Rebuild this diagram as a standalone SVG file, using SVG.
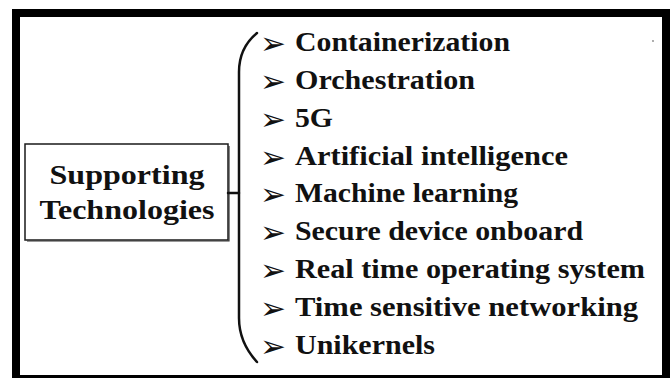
<svg xmlns="http://www.w3.org/2000/svg" width="670" height="378" viewBox="0 0 670 378">
  <style>
    .frame { fill: #ffffff; stroke: #000000; stroke-width: 8; }
    .box { fill: #ffffff; stroke: #1a1a1a; stroke-width: 1.5; }
    .shadow { fill: none; stroke: #333333; stroke-width: 1.2; }
    .title { font-family: "Liberation Serif", "Times New Roman", serif; font-weight: bold; font-size: 27px; fill: #111111; text-anchor: middle; }
    .item { font-family: "Liberation Serif", "Times New Roman", serif; font-weight: bold; font-size: 27px; fill: #111111; }
    .bullet { font-family: "DejaVu Sans", sans-serif; font-size: 31px; fill: #111111; }
    .link { fill: none; stroke: #111111; stroke-width: 2.5; stroke-linecap: round; }
  </style>

  <!-- outer frame -->
  <rect class="frame" x="16" y="13" width="650" height="366"/>
  <circle cx="653" cy="41" r="0.9" fill="#888888"/>

  <!-- root node -->
  <g id="supporting-technologies">
    <rect class="box" x="25" y="144" width="203" height="96"/>
    <path class="shadow" d="M229 146 V241 H27"/>
    <text class="title" x="127" y="184" textLength="155" lengthAdjust="spacingAndGlyphs">Supporting</text>
    <text class="title" x="127" y="219" textLength="175" lengthAdjust="spacingAndGlyphs">Technologies</text>
  </g>

  <!-- brace joining the root to the list -->
  <g id="connectors">
    <path class="link" d="M228 193 H239"/>
    <path class="link" d="M257 33 C246 42 239 54 239 72 V318 C239 336 246 350 257 362"/>
  </g>

  <!-- list items -->
  <g id="containerization">
    <text class="bullet" x="260" y="54">➢</text>
    <text class="item" x="295" y="51" textLength="215" lengthAdjust="spacingAndGlyphs">Containerization</text>
  </g>
  <g id="orchestration">
    <text class="bullet" x="260" y="92">➢</text>
    <text class="item" x="295" y="89" textLength="180" lengthAdjust="spacingAndGlyphs">Orchestration</text>
  </g>
  <g id="five-g">
    <text class="bullet" x="260" y="130">➢</text>
    <text class="item" x="295" y="127" textLength="38" lengthAdjust="spacingAndGlyphs">5G</text>
  </g>
  <g id="artificial-intelligence">
    <text class="bullet" x="260" y="168">➢</text>
    <text class="item" x="295" y="165" textLength="273" lengthAdjust="spacingAndGlyphs">Artificial intelligence</text>
  </g>
  <g id="machine-learning">
    <text class="bullet" x="260" y="205">➢</text>
    <text class="item" x="295" y="202" textLength="223" lengthAdjust="spacingAndGlyphs">Machine learning</text>
  </g>
  <g id="secure-device-onboard">
    <text class="bullet" x="260" y="243">➢</text>
    <text class="item" x="295" y="240" textLength="288" lengthAdjust="spacingAndGlyphs">Secure device onboard</text>
  </g>
  <g id="real-time-os">
    <text class="bullet" x="260" y="281">➢</text>
    <text class="item" x="295" y="278" textLength="350" lengthAdjust="spacingAndGlyphs">Real time operating system</text>
  </g>
  <g id="time-sensitive-networking">
    <text class="bullet" x="260" y="319">➢</text>
    <text class="item" x="295" y="316" textLength="343" lengthAdjust="spacingAndGlyphs">Time sensitive networking</text>
  </g>
  <g id="unikernels">
    <text class="bullet" x="260" y="357">➢</text>
    <text class="item" x="295" y="354" textLength="140" lengthAdjust="spacingAndGlyphs">Unikernels</text>
  </g>
</svg>
